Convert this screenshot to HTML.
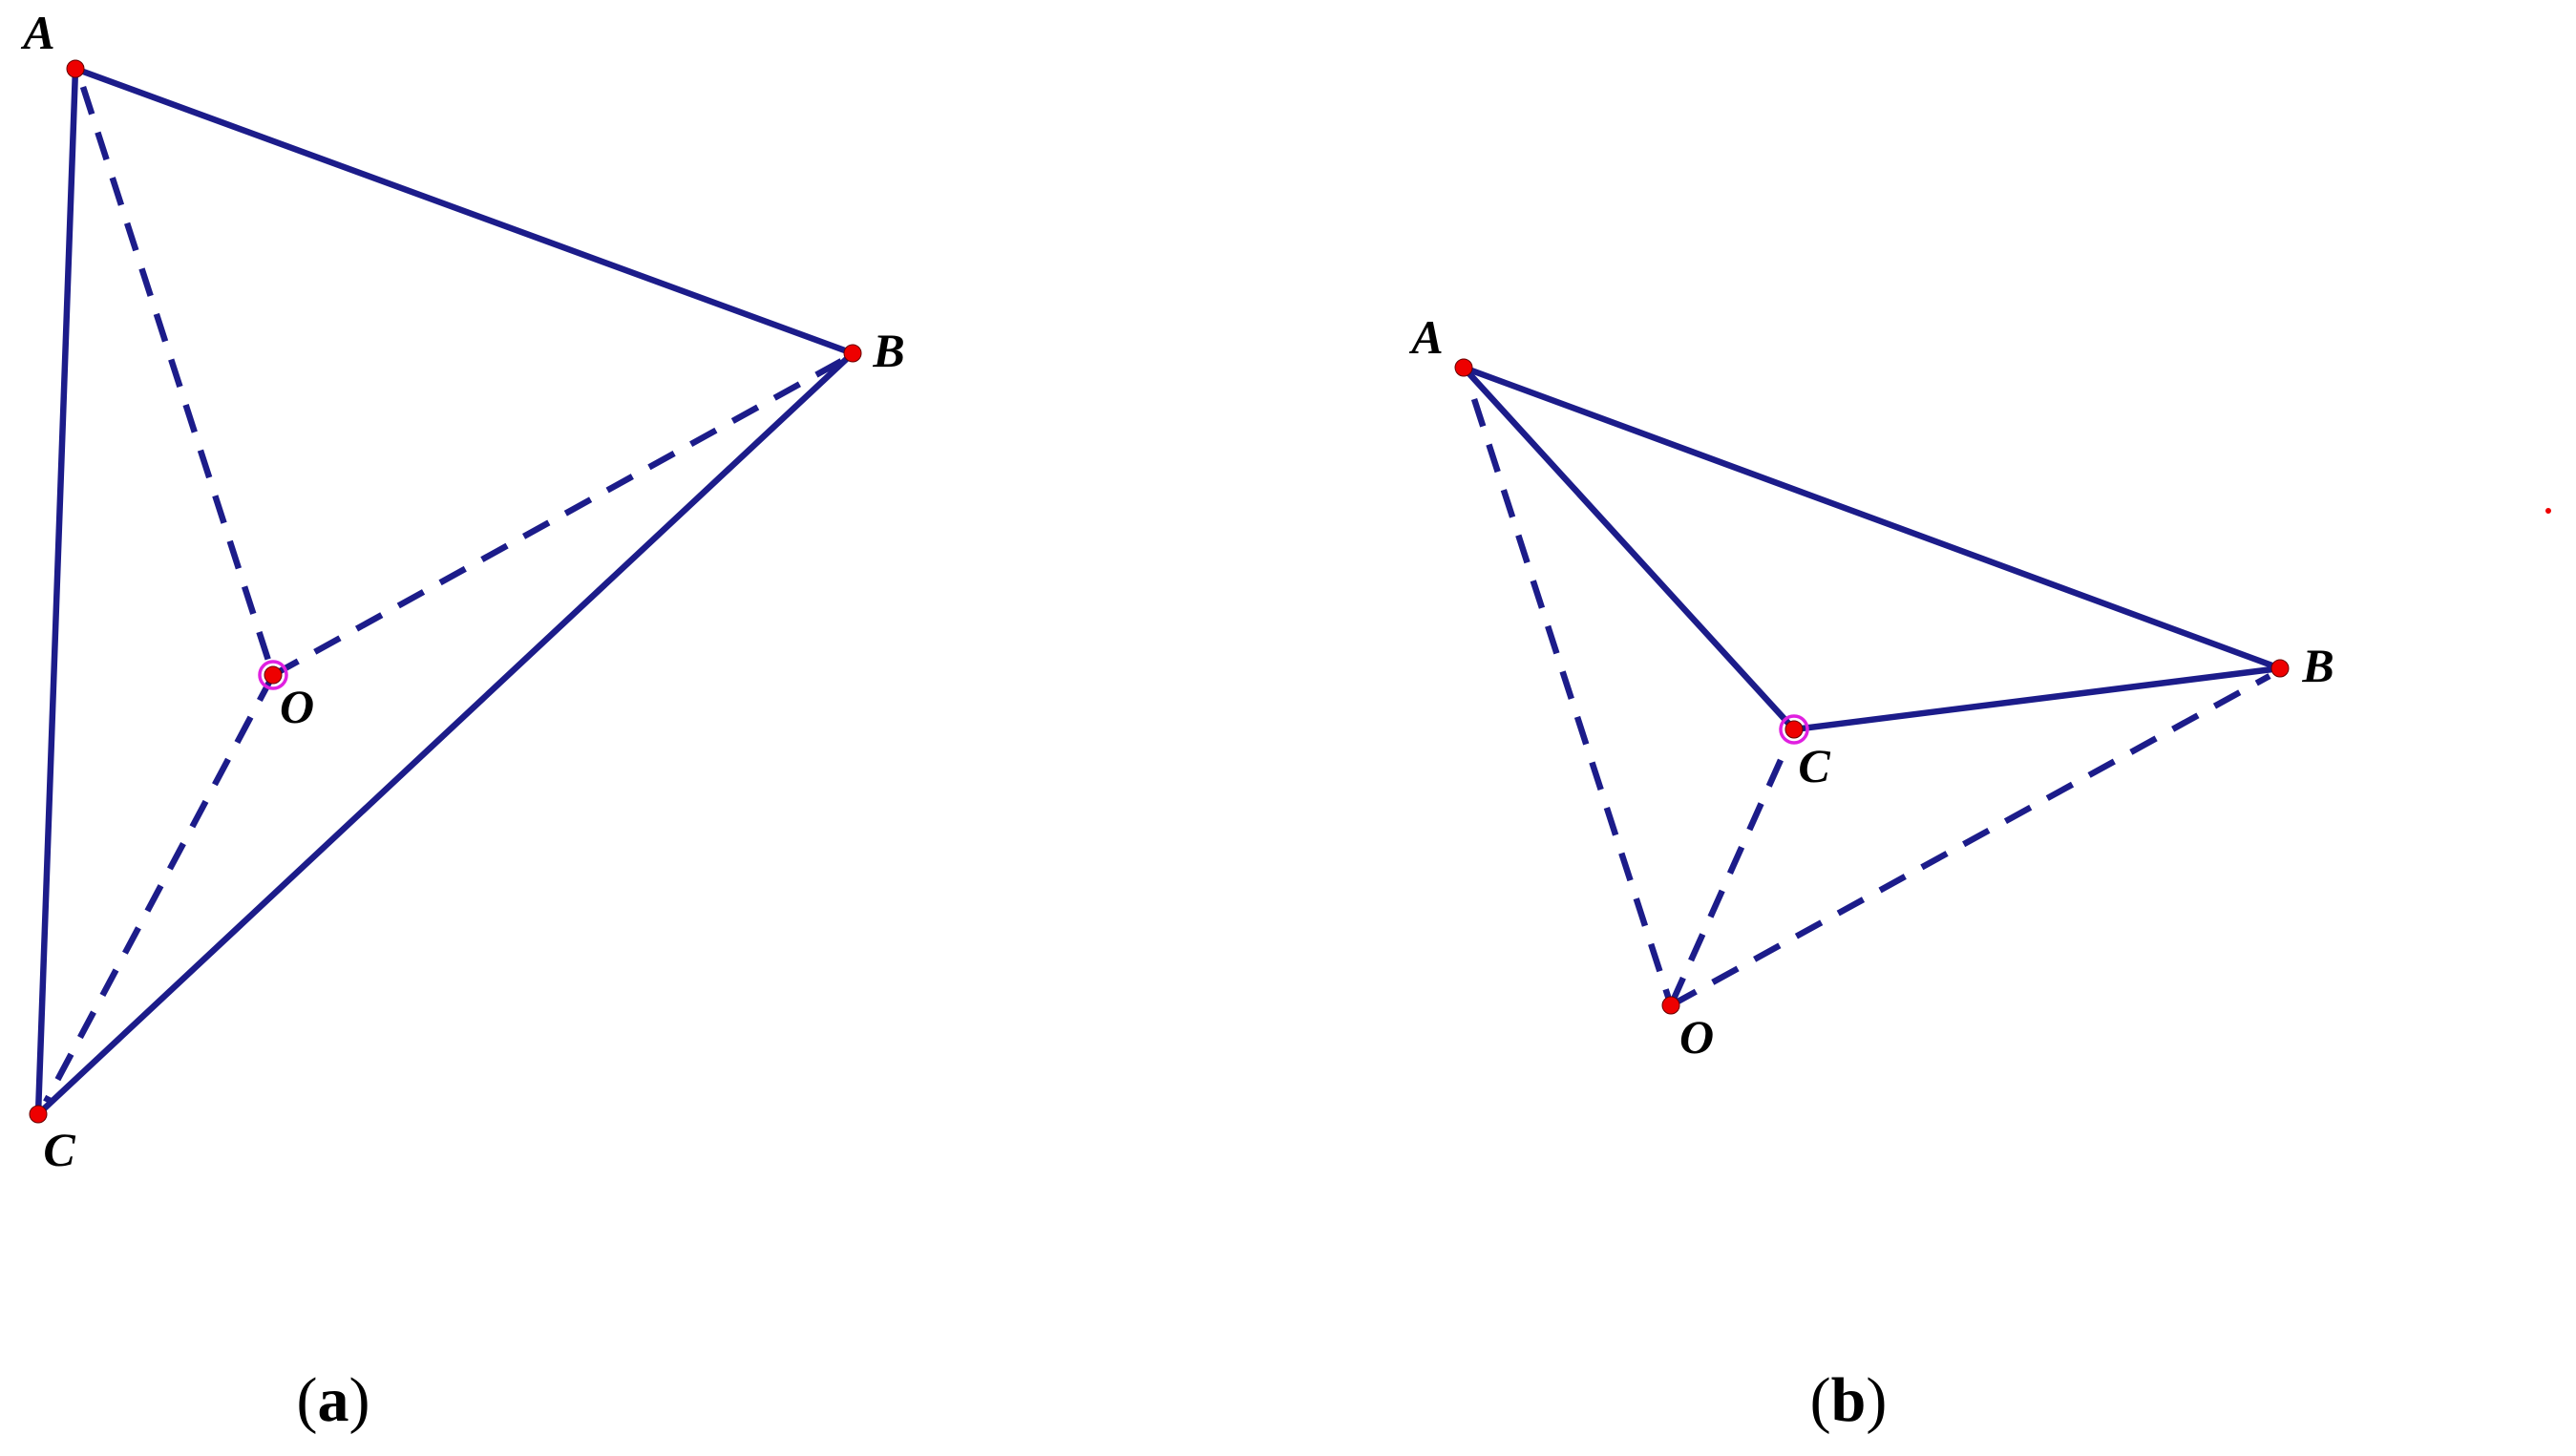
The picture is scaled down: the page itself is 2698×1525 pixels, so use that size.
<!DOCTYPE html>
<html><head><meta charset="utf-8"><style>
html,body{margin:0;padding:0;background:#fff;}
svg{display:block;}
.l{font-family:"Liberation Serif",serif;font-style:italic;font-weight:bold;font-size:50px;fill:#000;}
.c{font-family:"Liberation Serif",serif;font-size:66px;fill:#000;}
</style></head><body>
<svg width="2698" height="1525" viewBox="0 0 2698 1525" xmlns="http://www.w3.org/2000/svg">
<g stroke="#1c1c8a" stroke-width="6.5" fill="none" stroke-linecap="round">
  <line x1="79" y1="72" x2="893" y2="370"/>
  <line x1="79" y1="72" x2="40" y2="1167"/>
  <line x1="40" y1="1167" x2="893" y2="370"/>
  <g stroke-dasharray="30 20" stroke-linecap="butt">
    <line x1="87" y1="91" x2="286" y2="707"/>
    <line x1="286" y1="707" x2="885" y2="376"/>
    <line x1="286" y1="707" x2="48" y2="1154"/>
  </g>
  <line x1="1533" y1="385" x2="2388" y2="700"/>
  <line x1="1533" y1="385" x2="1879" y2="764"/>
  <line x1="1879" y1="764" x2="2388" y2="700"/>
  <g stroke-dasharray="30 20" stroke-linecap="butt">
    <line x1="1544" y1="418" x2="1750" y2="1053"/>
    <line x1="1865" y1="796" x2="1750" y2="1053"/>
    <line x1="1750" y1="1053" x2="2377" y2="708"/>
  </g>
</g>
<g fill="#e00" stroke="#600" stroke-width="1">
  <circle cx="79" cy="72" r="9"/>
  <circle cx="893" cy="370" r="9"/>
  <circle cx="40" cy="1167" r="9"/>
  <circle cx="286" cy="707" r="9"/>
  <circle cx="1533" cy="385" r="9"/>
  <circle cx="2388" cy="700" r="9"/>
  <circle cx="1879" cy="764" r="9"/>
  <circle cx="1750" cy="1053" r="9"/>
</g>
<circle cx="286" cy="707" r="14" fill="none" stroke="#e020e0" stroke-width="3.5"/>
<circle cx="1879" cy="764" r="14" fill="none" stroke="#e020e0" stroke-width="3.5"/>
<circle cx="2669" cy="535" r="3" fill="#e00"/>
<g text-anchor="middle">
<text class="l" x="41" y="51">A</text>
<text class="l" x="931" y="384">B</text>
<text class="l" x="311" y="757">O</text>
<text class="l" x="62" y="1221">C</text>
<text class="l" x="1495" y="370">A</text>
<text class="l" x="2428" y="714">B</text>
<text class="l" x="1900" y="819">C</text>
<text class="l" x="1777" y="1103">O</text>
</g>
<text class="c" x="349" y="1488" text-anchor="middle">(<tspan font-weight="bold">a</tspan>)</text>
<text class="c" x="1936" y="1488" text-anchor="middle">(<tspan font-weight="bold">b</tspan>)</text>
</svg>
</body></html>
